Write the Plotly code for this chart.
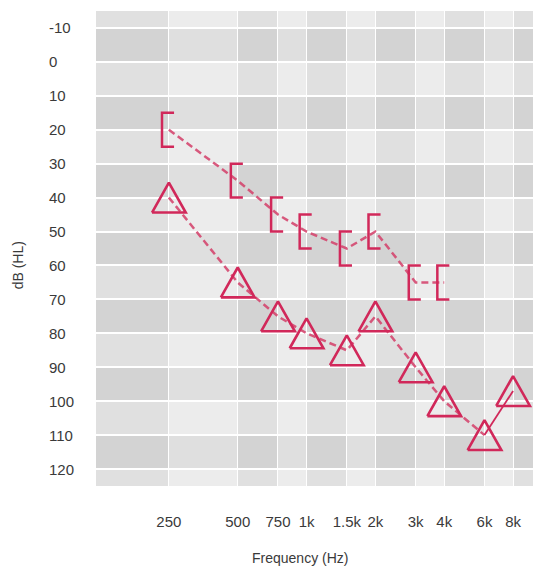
import numpy as np
import plotly.graph_objects as go

# Axis ticks
freq_ticks = [250, 500, 750, 1000, 1500, 2000, 3000, 4000, 6000, 8000]
freq_labels = ["250", "500", "750", "1k", "1.5k", "2k", "3k", "4k", "6k", "8k"]
db_ticks = list(range(-10, 121, 10))

# Masked bone conduction thresholds ("[" symbol)
bone_freq = [250, 500, 750, 1000, 1500, 2000, 3000, 4000]
bone_db = [20, 35, 45, 50, 55, 50, 65, 65]

# Sound-field / aided thresholds (triangle symbol)
air_freq = [250, 500, 750, 1000, 1500, 2000, 3000, 4000, 6000, 8000]
air_db = [40, 65, 75, 80, 85, 75, 90, 100, 110, 97]

X_RANGE = (120, 9780)
Y_RANGE = (125, -15)

MARK = "#d1285a"
LINK = "rgba(212, 62, 104, 0.85)"
FONT = "Liberation Sans, Arial, sans-serif"
TEXT = "#3a3a3a"


def bracket_path(freqs, levels, left=0.1, right=0.075, half=5.0):
    """'[' glyphs: vertical bar just left of the point, serifs to the right."""
    xs, ys = [], []
    for f, d in zip(freqs, levels):
        xl, xr = f * 2 ** (-left), f * 2 ** right
        xs += [xr, xl, xl, xr, None]
        ys += [d - half, d - half, d + half, d + half, None]
    return xs, ys


def triangle_path(freqs, levels, half_w=0.245, half_h=4.4):
    """Open, roughly equilateral triangles centred on each point."""
    xs, ys = [], []
    for f, d in zip(freqs, levels):
        xs += [f * 2 ** (-half_w), f, f * 2 ** half_w, f * 2 ** (-half_w), None]
        ys += [d + half_h, d - half_h, d + half_h, d + half_h, None]
    return xs, ys


fig = go.Figure()

# Background checker: darker rows every other 10 dB band, darker columns between alternate ticks
shapes = []
for i in range(0, len(db_ticks) - 1, 2):
    shapes.append(dict(type="rect", xref="paper", yref="y", x0=0, x1=1,
                       y0=db_ticks[i], y1=db_ticks[i + 1],
                       fillcolor="rgba(0,0,0,0.055)", line_width=0, layer="below"))
edges = [X_RANGE[0]] + freq_ticks + [X_RANGE[1]]
for j in range(0, len(edges) - 1, 2):
    shapes.append(dict(type="rect", xref="x", yref="paper", x0=edges[j], x1=edges[j + 1],
                       y0=0, y1=1,
                       fillcolor="rgba(0,0,0,0.05)", line_width=0, layer="below"))

# Connecting dashed lines
fig.add_trace(go.Scatter(x=bone_freq, y=bone_db, mode="lines",
                         line=dict(color=LINK, width=2.5, dash="7px,4px"),
                         hoverinfo="skip", showlegend=False))
fig.add_trace(go.Scatter(x=air_freq[:-1], y=air_db[:-1], mode="lines",
                         line=dict(color=LINK, width=2.5, dash="7px,4px"),
                         hoverinfo="skip", showlegend=False))
fig.add_trace(go.Scatter(x=air_freq[-2:], y=air_db[-2:], mode="lines",
                         line=dict(color=MARK, width=1.8),
                         hoverinfo="skip", showlegend=False))

# Symbols
bx, by = bracket_path(bone_freq, bone_db)
fig.add_trace(go.Scatter(x=bx, y=by, mode="lines",
                         line=dict(color=MARK, width=2.5),
                         hoverinfo="skip", showlegend=False))
tx, ty = triangle_path(air_freq, air_db)
fig.add_trace(go.Scatter(x=tx, y=ty, mode="lines",
                         line=dict(color=MARK, width=2.6),
                         hoverinfo="skip", showlegend=False))

# Y tick labels, left aligned
annotations = []
for d in db_ticks:
    annotations.append(dict(text=str(d), xref="paper", yref="y", x=-0.112, y=d,
                            xanchor="left", yanchor="middle", showarrow=False,
                            font=dict(family=FONT, size=15, color=TEXT)))
annotations.append(dict(text="dB (HL)", xref="paper", yref="paper", x=-0.178, y=0.465,
                        textangle=-90, xanchor="center", yanchor="middle", showarrow=False,
                        font=dict(family=FONT, size=14, color=TEXT)))
annotations.append(dict(text="Frequency (Hz)", xref="paper", yref="paper", x=0.467, y=-0.152,
                        xanchor="center", yanchor="middle", showarrow=False,
                        font=dict(family=FONT, size=14, color=TEXT)))

fig.update_layout(
    width=533, height=567,
    margin=dict(l=96, r=0, t=11, b=81),
    paper_bgcolor="white",
    plot_bgcolor="#ececec",
    shapes=shapes,
    annotations=annotations,
    xaxis=dict(type="log", range=[np.log10(X_RANGE[0]), np.log10(X_RANGE[1])],
               tickvals=freq_ticks, ticktext=freq_labels,
               showgrid=True, gridcolor="white", gridwidth=1.2,
               zeroline=False, showline=False, ticks="",
               ticklabelstandoff=25,
               tickfont=dict(family=FONT, size=15, color=TEXT)),
    yaxis=dict(range=list(Y_RANGE), tickvals=db_ticks, showticklabels=False,
               showgrid=True, gridcolor="white", gridwidth=2,
               zeroline=False, showline=False, ticks=""),
)

fig.write_html("out.html")
